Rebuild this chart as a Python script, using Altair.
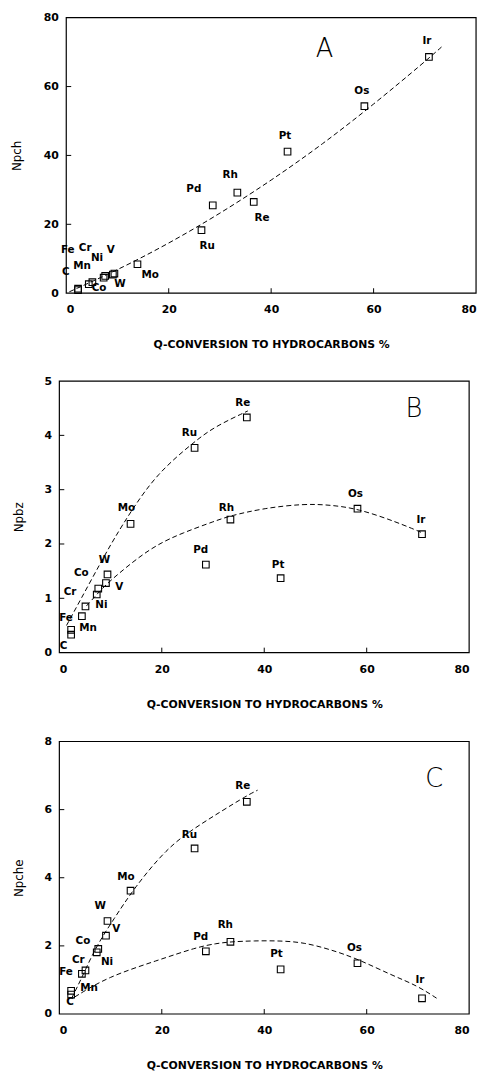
import altair as alt
import pandas as pd

elements = ["C", "Fe", "Mn", "Cr", "Ni", "Co", "V", "W", "Mo", "Ru", "Pd", "Rh", "Re", "Pt", "Os", "Ir"]
conversion = [2.3, 2.3, 4.4, 5.1, 7.3, 7.6, 9.1, 9.4, 13.9, 26.4, 28.6, 33.4, 36.6, 43.2, 58.2, 70.8]

npch = [0.9, 1.3, 2.6, 3.2, 4.5, 5.0, 5.4, 5.7, 8.4, 18.3, 25.5, 29.2, 26.5, 41.1, 54.3, 68.6]
npbz = [0.33, 0.42, 0.67, 0.85, 1.07, 1.18, 1.28, 1.44, 2.37, 3.77, 1.62, 2.45, 4.33, 1.37, 2.65, 2.18]
npche = [0.57, 0.68, 1.18, 1.28, 1.81, 1.91, 2.30, 2.73, 3.62, 4.86, 1.84, 2.12, 6.23, 1.31, 1.49, 0.46]

# label anchor positions (data units)
lab_a_x = [-0.1, 0.3, 3.1, 3.7, 6.0, 6.4, 8.7, 10.5, 16.4, 27.5, 24.9, 32.0, 38.2, 42.7, 57.7, 70.4]
lab_a_y = [6.0, 12.5, 8.0, 13.2, 10.3, 1.6, 12.5, 2.6, 5.3, 13.8, 30.1, 34.2, 21.7, 45.5, 58.8, 73.1]
lab_b_x = [0.8, 1.3, 5.6, 2.1, 8.2, 4.3, 11.7, 8.8, 13.1, 25.4, 27.6, 32.6, 35.8, 42.7, 57.8, 70.6]
lab_b_y = [0.12, 0.64, 0.45, 1.11, 0.88, 1.46, 1.21, 1.71, 2.67, 4.04, 1.88, 2.66, 4.59, 1.62, 2.92, 2.45]
lab_c_x = [2.1, 1.3, 5.8, 3.7, 9.3, 4.6, 11.1, 8.0, 13.0, 25.4, 27.6, 32.4, 35.8, 42.4, 57.6, 70.4]
lab_c_y = [0.36, 1.23, 0.75, 1.57, 1.52, 2.15, 2.49, 3.17, 4.03, 5.26, 2.25, 2.61, 6.68, 1.77, 1.93, 0.99]

# dashed trend curves
curve_a_x = [0.6, 10, 20, 30, 40, 50, 60, 70, 73.5]
curve_a_y = [0.4, 6.7, 14.4, 23.1, 32.7, 43.2, 54.8, 67.2, 71.8]
curve_b1_x = [1.4, 4.0, 8.2, 10.7, 14.1, 19.1, 26.3, 30.3, 36.8]
curve_b1_y = [0.50, 0.95, 1.68, 2.10, 2.62, 3.30, 3.88, 4.16, 4.45]
curve_b2_x = [5.3, 7.3, 9.2, 11.4, 15.0, 19.1, 23.9, 30.6, 33.4, 40.0, 47.7, 52.8, 58.3, 65.7, 71.0]
curve_b2_y = [0.86, 1.07, 1.26, 1.44, 1.72, 1.99, 2.20, 2.43, 2.52, 2.66, 2.74, 2.72, 2.65, 2.41, 2.20]
curve_c1_x = [2.4, 4.5, 6.2, 8.3, 10.4, 14.6, 21.0, 26.3, 31.6, 36.7, 38.7]
curve_c1_y = [0.46, 1.10, 1.67, 2.25, 2.73, 3.70, 4.87, 5.45, 5.95, 6.42, 6.57]
curve_c2_x = [3.0, 9.4, 19.1, 26.8, 30.6, 33.4, 38.0, 43.2, 47.7, 52.8, 58.2, 65.0, 69.8, 74.0]
curve_c2_y = [0.50, 1.09, 1.57, 1.96, 2.07, 2.12, 2.15, 2.15, 2.10, 1.90, 1.62, 1.13, 0.84, 0.43]

x_ticks = [0, 20, 40, 60, 80]
x_inner = [20, 40, 60]
y_ticks_a = [0, 20, 40, 60, 80]
y_ticks_b = [0, 1, 2, 3, 4, 5]
y_ticks_c = [0, 2, 4, 6, 8]

XTITLE = "Q-CONVERSION TO HYDROCARBONS %"
BOLD = "DejaVu Sans"


def panel(yvals, lab_x, lab_y, curves, ymax, yticks, ytitle, letter, letter_x, letter_y,
          W, H, x0, ylp, ytp, xtp):
    # x0: left inset of the framed plot box inside the view
    df = pd.DataFrame({"el": elements, "x": conversion, "y": yvals, "lx": lab_x, "ly": lab_y})
    xs = alt.Scale(domain=[0, 80], nice=False, zero=False, range=[x0, W])
    ys = alt.Scale(domain=[0, ymax], nice=False, zero=False)
    xaxis = alt.Axis(values=x_ticks, title=XTITLE, grid=False, ticks=False, tickSize=0,
                     domain=False, labelPadding=11, titlePadding=xtp, format="d")
    yaxis = alt.Axis(values=yticks, title=ytitle, grid=False, ticks=False, tickSize=0,
                     domain=False, labelPadding=ylp, titlePadding=ytp, format="d")

    def X(f):
        return alt.X(f, scale=xs, axis=xaxis)

    def Y(f):
        return alt.Y(f, scale=ys, axis=yaxis)

    frame = alt.Chart(pd.DataFrame({"f": [0]})).mark_rect(
        fill="white", fillOpacity=0, stroke="black", strokeWidth=1.2
    ).encode(x=alt.value(x0), x2=alt.value(W), y=alt.value(0), y2=alt.value(H))
    pts = alt.Chart(df).mark_point(shape="square", filled=False, color="black", size=45,
                                   strokeWidth=1.1, opacity=1).encode(x=X("x:Q"), y=Y("y:Q"))
    labels = alt.Chart(df).mark_text(font=BOLD, fontWeight="bold", fontSize=10.5, color="black").encode(
        x=X("lx:Q"), y=Y("ly:Q"), text="el:N",
    )
    layers = []
    for cx, cy in curves:
        layers.append(
            alt.Chart(pd.DataFrame({"x": cx, "y": cy})).mark_line(
                color="black", strokeWidth=1, strokeDash=[5, 3], interpolate="basis"
            ).encode(x=X("x:Q"), y=Y("y:Q"))
        )
    xt = alt.Chart(pd.DataFrame({"t": x_inner})).mark_rule(color="black", strokeWidth=1).encode(
        x=X("t:Q"), y=alt.value(H), y2=alt.value(H - 5)
    )
    yt = alt.Chart(pd.DataFrame({"t": yticks[1:-1]})).mark_rule(color="black", strokeWidth=1).encode(
        y=Y("t:Q"), x=alt.value(x0), x2=alt.value(x0 + 5)
    )
    let = alt.Chart(pd.DataFrame({"x": [letter_x], "y": [letter_y], "t": [letter]})).mark_text(
        font="DejaVu Sans", fontWeight=200, fontSize=26, color="black"
    ).encode(x=X("x:Q"), y=Y("y:Q"), text="t:N")
    return alt.layer(frame, *layers, xt, yt, pts, labels, let).properties(width=W, height=H)


pa = panel(npch, lab_a_x, lab_a_y, [(curve_a_x, curve_a_y)], 80, y_ticks_a, "Npch", "A", 50.4, 70.8,
           422, 279, 7, 1, 20, 24)
pb = panel(npbz, lab_b_x, lab_b_y, [(curve_b1_x, curve_b1_y), (curve_b2_x, curve_b2_y)], 5, y_ticks_b,
           "Npbz", "B", 69.2, 4.48, 415, 275, 0, 8, 19, 25)
pc = panel(npche, lab_c_x, lab_c_y, [(curve_c1_x, curve_c1_y), (curve_c2_x, curve_c2_y)], 8, y_ticks_c,
           "Npche", "C", 73.2, 6.89, 415, 276, 0, 8, 19, 24)

chart = alt.vconcat(pa, alt.vconcat(pb, pc, spacing=24), spacing=24).properties(
    padding={"left": 2, "top": -4, "right": 2, "bottom": 0}, background="white"
).configure_view(stroke="transparent").configure_axis(
    labelFont=BOLD, labelFontWeight="bold", labelFontSize=11, labelColor="black",
    titleFont=BOLD, titleColor="black",
).configure_axisX(titleFontWeight="bold", titleFontSize=11).configure_axisY(
    titleFontWeight="normal", titleFontSize=12
)

chart.save("out.html", embed_options={"renderer": "svg", "actions": False})
